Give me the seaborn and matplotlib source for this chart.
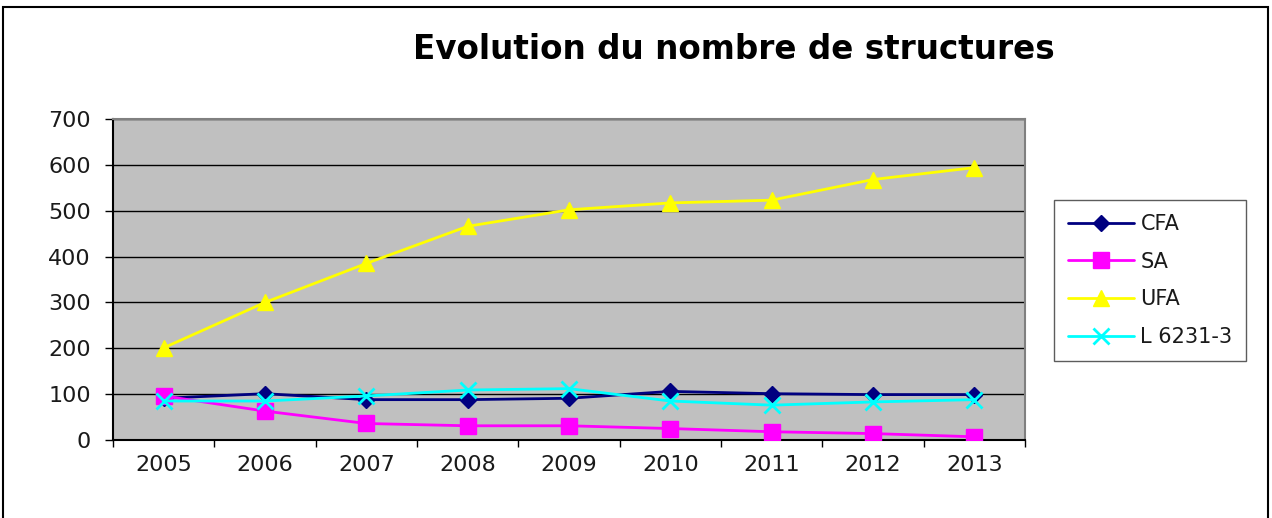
import matplotlib
matplotlib.use("Agg")
import matplotlib.pyplot as plt
import seaborn as sns
import pandas as pd

# Values
years = ["2005", "2006", "2007", "2008", "2009", "2010", "2011", "2012", "2013"]
cfa = [91, 101, 88, 88, 91, 106, 101, 99, 99]
sa = [96, 63, 36, 31, 31, 25, 18, 14, 7]
ufa = [201, 300, 385, 466, 502, 517, 523, 568, 594]
l6231 = [85, 85, 96, 109, 112, 85, 76, 83, 88]

series_names = ["CFA", "SA", "UFA", "L 6231-3"]
series_values = [cfa, sa, ufa, l6231]
colors = ["#000080", "#FF00FF", "#FFFF00", "#00FFFF"]
markers = ["D", "s", "^", "x"]
marker_sizes = [8, 11, 12, 11]

sns.set_theme(style="white")
plt.rcParams["font.family"] = ["DejaVu Sans"]

fig = plt.figure(figsize=(12.72, 5.18), dpi=100)
ax = fig.add_axes([113 / 1272, 78 / 518, 912 / 1272, 321 / 518])
ax.set_facecolor("#C0C0C0")

for name, vals, col, mk, ms in zip(series_names, series_values, colors, markers, marker_sizes):
    df = pd.DataFrame({"year": years, "value": vals})
    sns.lineplot(data=df, x="year", y="value", ax=ax, color=col, marker=mk,
                 markersize=ms, markeredgecolor=col, markeredgewidth=2 if mk == "x" else 1,
                 linewidth=2, label=name, legend=False, zorder=3)

ax.set_xlim(-0.5, len(years) - 0.5)
ax.set_ylim(0, 700)
ax.set_yticks(range(0, 701, 100))
ax.yaxis.grid(True, color="black", linewidth=1)
ax.set_axisbelow(True)
ax.set_xlabel("")
ax.set_ylabel("")

# Excel-style tick marks between categories
ax.set_xticks(range(len(years)))
ax.set_xticklabels(years)
ax.set_xticks([i - 0.5 for i in range(len(years) + 1)], minor=True)
ax.tick_params(axis="x", which="major", length=0, pad=11, labelsize=16, colors="#1a1a1a")
ax.tick_params(axis="x", which="minor", length=5, width=1, color="black", direction="out", bottom=True)
ax.tick_params(axis="y", which="major", length=5.8, width=1, color="black", direction="out",
               left=True, labelsize=16, labelcolor="#1a1a1a", pad=10)

for side in ["left", "bottom"]:
    ax.spines[side].set_color("black")
    ax.spines[side].set_linewidth(1.5)
for side in ["top", "right"]:
    ax.spines[side].set_color("#808080")
    ax.spines[side].set_linewidth(1.5)

fig.text(734 / 1272, 1 - 59 / 518, "Evolution du nombre de structures",
         ha="center", va="baseline", fontsize=23.5, fontweight="bold", color="black")

handles, labels = ax.get_legend_handles_labels()
leg = fig.legend(handles, labels, loc="center left",
                 bbox_to_anchor=(1054 / 1272, 1 - 280.5 / 518),
                 frameon=True, fancybox=False, fontsize=15, handlelength=3.2,
                 labelspacing=0.85, borderpad=0.65, handletextpad=0.3, borderaxespad=0)
leg.get_frame().set_edgecolor("#333333")
leg.get_frame().set_linewidth(1)
leg.get_frame().set_facecolor("white")
for txt in leg.get_texts():
    txt.set_color("#1a1a1a")

# outer chart border
fig.add_artist(plt.Rectangle((3 / 1272, -0.02), 1265 / 1272, (518 - 7) / 518 + 0.02,
                             transform=fig.transFigure, fill=False, edgecolor="black",
                             linewidth=1.5))

fig.savefig("out.png", dpi=100)
